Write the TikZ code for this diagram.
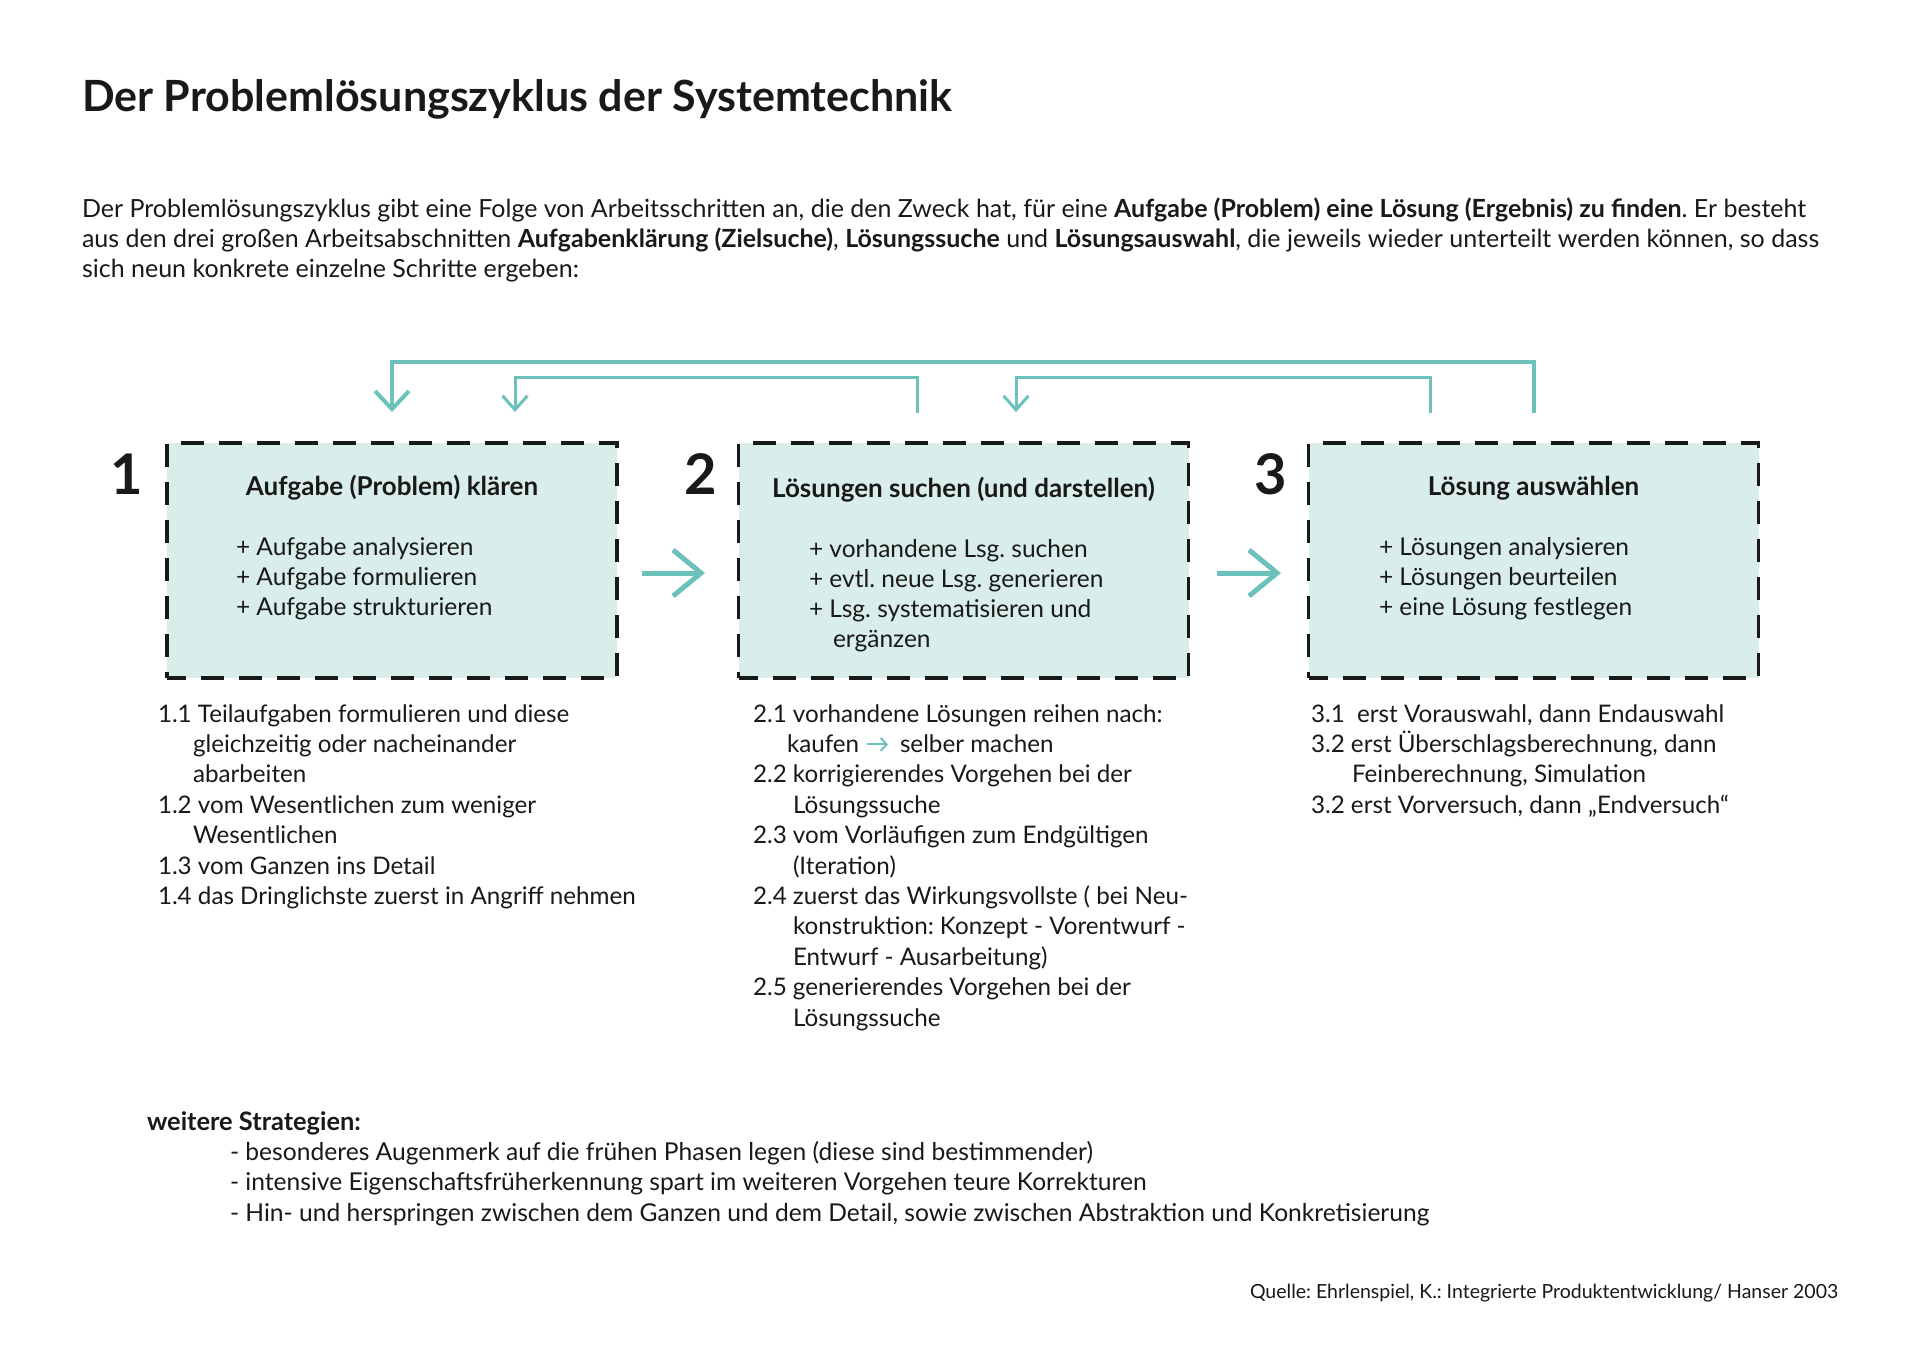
\documentclass[tikz,border=0pt]{standalone}
\usepackage{fontspec}
\setmainfont{Lato}
\usetikzlibrary{arrows.meta,calc}
\definecolor{tealc}{RGB}{108,194,187}
\definecolor{boxfill}{RGB}{217,238,235}
\definecolor{ink}{RGB}{25,25,25}
\frenchspacing
\begin{document}
\begin{tikzpicture}[x=1pt,y=-1pt,
  txt/.style={anchor=base west, inner sep=0pt, outer sep=0pt, text=ink, font=\fontsize{25}{28}\selectfont},
  ltxt/.style={txt, font=\fontsize{24.2}{28}\selectfont},
  stxt/.style={txt, font=\fontsize{24.6}{28}\selectfont},
  btxt/.style={txt, font=\fontsize{24.5}{28}\selectfont},
  btitle/.style={anchor=base, inner sep=0pt, outer sep=0pt, text=ink, font=\bfseries\fontsize{26}{28}\selectfont},
  bignum/.style={anchor=base east, inner sep=0pt, text=ink, font=\bfseries\fontsize{56}{60}\selectfont},
  stepbox/.style={draw=ink, fill=boxfill, line width=3.5pt, dash pattern=on 23pt off 15pt, dash phase=4pt, minimum width=450pt, minimum height=235pt, inner sep=0pt},
  flow/.style={draw=tealc, line width=5pt, -{Straight Barb[length=28pt,width=46pt]}},
  loopbig/.style={draw=tealc, line width=4pt, -{Straight Barb[length=18pt,width=34pt]}},
  loopsmall/.style={draw=tealc, line width=3pt, -{Straight Barb[length=14pt,width=25pt]}},
]
\useasboundingbox[fill=white] (0,0) rectangle (1920,1358);

% title and intro
\node[txt, font=\bfseries\fontsize{43}{46}\selectfont] (title) at (82,111) {Der Problemlösungszyklus der Systemtechnik};
\node[txt] (p1) at (82,217) {Der Problemlösungszyklus gibt eine Folge von Arbeitsschritten an, die den Zweck hat, für eine \textbf{Aufgabe (Problem) eine Lösung (Ergebnis) zu finden}. Er besteht};
\node[txt] (p2) at (82,247) {aus den drei großen Arbeitsabschnitten \textbf{Aufgabenklärung (Zielsuche)}, \textbf{Lösungssuche} und \textbf{Lösungsauswahl}, die jeweils wieder unterteilt werden können, so dass};
\node[txt] (p3) at (82,277) {sich neun konkrete einzelne Schritte ergeben:};

% boxes
\node[stepbox] (b1) at (392,560.5) {};
\node[stepbox] (b2) at (963.5,560.5) {};
\node[stepbox] (b3) at (1533.5,560.5) {};

\node[bignum] (n1) at (143,494) {1};
\node[bignum] (n2) at (717,494) {2};
\node[bignum] (n3) at (1287,494) {3};

\node[btitle] (t1) at (392,495) {Aufgabe (Problem) klären};
\node[btitle] (t2) at (963.5,497) {Lösungen suchen (und darstellen)};
\node[btitle] (t3) at (1533.5,495) {Lösung auswählen};

\node[btxt] (b1a) at (236,555) {+ Aufgabe analysieren};
\node[btxt] (b1b) at (236,585) {+ Aufgabe formulieren};
\node[btxt] (b1c) at (236,615) {+ Aufgabe strukturieren};

\node[btxt] (b2a) at (809,557) {+ vorhandene Lsg. suchen};
\node[btxt] (b2b) at (809,587) {+ evtl. neue Lsg. generieren};
\node[btxt] (b2c) at (809,617) {+ Lsg. systematisieren und};
\node[btxt] (b2d) at (833,647) {ergänzen};

\node[btxt] (b3a) at (1379,555) {+ Lösungen analysieren};
\node[btxt] (b3b) at (1379,585) {+ Lösungen beurteilen};
\node[btxt] (b3c) at (1379,615) {+ eine Lösung festlegen};

% flow arrows
\coordinate (f1s) at (642,573);
\coordinate (f1e) at (705,573);
\coordinate (f2s) at (1217,573);
\coordinate (f2e) at (1281,573);
\draw[flow] (f1s) -- (f1e);
\draw[flow] (f2s) -- (f2e);

% feedback loops
\coordinate (o3) at (1533.5,413);
\coordinate (o1) at (392,412);
\coordinate (oTop) at (1000,362);
\draw[loopbig] (o3) |- (oTop) -| (o1);

\coordinate (i2s) at (917,413);
\coordinate (i1e) at (515,412);
\coordinate (iTop) at (700,377);
\draw[loopsmall] (i2s) |- (iTop) -| (i1e);

\coordinate (j3s) at (1430,413);
\coordinate (j2e) at (1016,412);
\draw[loopsmall] (j3s) |- (iTop -| j2e) -- (j2e);

% list 1
\node[ltxt] (l1a) at (158,722) {1.1 Teilaufgaben formulieren und diese};
\node[ltxt] (l1b) at (193,752.4) {gleichzeitig oder nacheinander};
\node[ltxt] (l1c) at (193,782.8) {abarbeiten};
\node[ltxt] (l1d) at (158,813.2) {1.2 vom Wesentlichen zum weniger};
\node[ltxt] (l1e) at (193,843.6) {Wesentlichen};
\node[ltxt] (l1f) at (158,874) {1.3 vom Ganzen ins Detail};
\node[ltxt] (l1g) at (158,904.4) {1.4 das Dringlichste zuerst in Angriff nehmen};

% list 2
\node[ltxt] (l2a) at (753,722) {2.1 vorhandene Lösungen reihen nach:};
\node[ltxt] (l2b1) at (787,752.4) {kaufen};
\node[ltxt] (l2b2) at (900,752.4) {selber machen};
\draw[draw=tealc, line width=2pt, -{Straight Barb[length=6pt,width=13pt]}] ($(l2b1.base east)+(8,-8)$) -- ($(l2b2.base west)+(-12,-8)$);
\node[ltxt] (l2c) at (753,782.8) {2.2 korrigierendes Vorgehen bei der};
\node[ltxt] (l2d) at (793,813.2) {Lösungssuche};
\node[ltxt] (l2e) at (753,843.6) {2.3 vom Vorläufigen zum Endgültigen};
\node[ltxt] (l2f) at (793,874) {(Iteration)};
\node[ltxt] (l2g) at (753,904.4) {2.4 zuerst das Wirkungsvollste ( bei Neu-};
\node[ltxt] (l2h) at (793,934.8) {konstruktion: Konzept - Vorentwurf -};
\node[ltxt] (l2i) at (793,965.2) {Entwurf - Ausarbeitung)};
\node[ltxt] (l2j) at (753,995.6) {2.5 generierendes Vorgehen bei der};
\node[ltxt] (l2k) at (793,1026) {Lösungssuche};

% list 3
\node[ltxt] (l3a) at (1311,722) {3.1\ \ erst Vorauswahl, dann Endauswahl};
\node[ltxt] (l3b) at (1311,752.4) {3.2 erst Überschlagsberechnung, dann};
\node[ltxt] (l3c) at (1352,782.8) {Feinberechnung, Simulation};
\node[ltxt] (l3d) at (1311,813.2) {3.2 erst Vorversuch, dann „Endversuch“};

% strategies
\node[txt, font=\bfseries\fontsize{25.4}{28}\selectfont] (s0) at (147,1130) {weitere Strategien:};
\node[stxt] (s1) at (230,1160) {- besonderes Augenmerk auf die frühen Phasen legen (diese sind bestimmender)};
\node[stxt] (s2) at (230,1190.5) {- intensive Eigenschaftsfrüherkennung spart im weiteren Vorgehen teure Korrekturen};
\node[stxt] (s3) at (230,1221) {- Hin- und herspringen zwischen dem Ganzen und dem Detail, sowie zwischen Abstraktion und Konkretisierung};

% source
\node[txt, font=\fontsize{19.5}{22}\selectfont] (src) at (1250,1298) {Quelle: Ehrlenspiel, K.: Integrierte Produktentwicklung/ Hanser 2003};
\end{tikzpicture}
\end{document}
